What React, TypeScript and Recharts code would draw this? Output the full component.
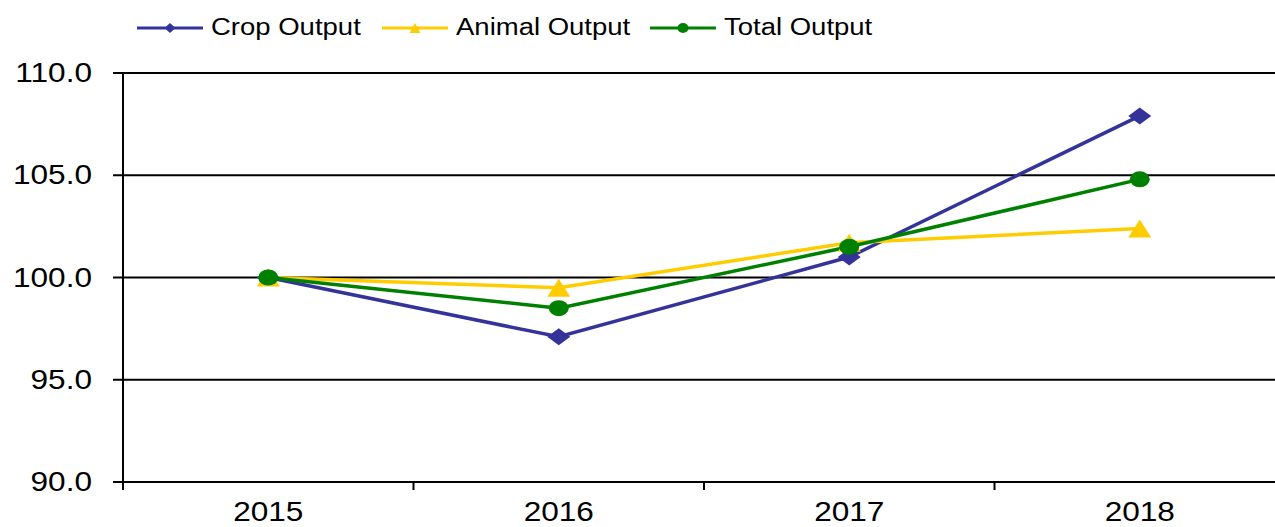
import React from "react";
import {
  LineChart,
  Line,
  XAxis,
  YAxis,
  CartesianGrid,
  Legend,
} from "recharts";

const years = ["2015", "2016", "2017", "2018"];
const cropOutput = [100.0, 97.1, 101.0, 107.9];
const animalOutput = [100.0, 99.5, 101.7, 102.4];
const totalOutput = [100.0, 98.5, 101.5, 104.8];
const yTicks = [90, 95, 100, 105, 110];

const data = years.map((year, i) => ({
  i,
  year,
  crop: cropOutput[i],
  animal: animalOutput[i],
  total: totalOutput[i],
}));

const CHART_W = 1300;
const CHART_H = 527;
const Y_AXIS_W = 123;
const MARGIN = { top: 73, right: 15, bottom: 0, left: 0 };
const PLOT_W = CHART_W - MARGIN.left - MARGIN.right - Y_AXIS_W;
const BAND = PLOT_W / years.length;
const SX = 1.17;
const FONT = "'Liberation Sans', Arial, sans-serif";

const series = [
  { key: "crop", name: "Crop Output", color: "#333399", shape: "diamond", itemW: 245 },
  { key: "animal", name: "Animal Output", color: "#FFCC00", shape: "triangle", itemW: 268 },
  { key: "total", name: "Total Output", color: "#008000", shape: "circle", itemW: 260 },
];

function Marker({ cx, cy, shape, color, w, h }: any) {
  if (cx == null || cy == null) return null;
  if (shape === "diamond") {
    return (
      <polygon
        points={`${cx - w / 2},${cy} ${cx},${cy - h / 2} ${cx + w / 2},${cy} ${cx},${cy + h / 2}`}
        fill={color}
      />
    );
  }
  if (shape === "triangle") {
    return (
      <polygon
        points={`${cx - w / 2},${cy + h / 2} ${cx},${cy - h / 2} ${cx + w / 2},${cy + h / 2}`}
        fill={color}
      />
    );
  }
  return <ellipse cx={cx} cy={cy} rx={w / 2} ry={h / 2} fill={color} />;
}

function YTick({ x, y, payload }: any) {
  return (
    <text
      transform={`translate(${x - 19},${y + 9}) scale(${SX},1)`}
      textAnchor="end"
      fontSize={27}
      fontFamily={FONT}
      fill="#000"
    >
      {Number(payload.value).toFixed(1)}
    </text>
  );
}

function XTick({ x, y, payload }: any) {
  const idx = Math.round(payload.value + 0.5);
  if (idx < 0 || idx >= years.length) return null;
  return (
    <text
      transform={`translate(${x + BAND / 2},${y + 29}) scale(${SX},1)`}
      textAnchor="middle"
      fontSize={27}
      fontFamily={FONT}
      fill="#000"
    >
      {years[idx]}
    </text>
  );
}

function LegendContent() {
  return (
    <div style={{ display: "flex", alignItems: "center", fontFamily: FONT }}>
      {series.map((s) => (
        <div
          key={s.key}
          style={{ display: "flex", alignItems: "center", width: s.itemW, flex: "none" }}
        >
          <svg width={66} height={20} style={{ flex: "none" }}>
            <line x1={0} y1={10} x2={66} y2={10} stroke={s.color} strokeWidth={3} />
            <Marker cx={33} cy={10} shape={s.shape} color={s.color} w={11} h={10} />
          </svg>
          <span
            style={{
              display: "inline-block",
              fontSize: 23.5,
              marginLeft: 8,
              transform: `scaleX(${SX})`,
              transformOrigin: "left center",
              whiteSpace: "nowrap",
            }}
          >
            {s.name}
          </span>
        </div>
      ))}
    </div>
  );
}

export default function App() {
  return (
    <div
      style={{
        position: "fixed",
        left: 0,
        top: 0,
        width: 1275,
        height: 527,
        overflow: "hidden",
        background: "#fff",
      }}
    >
      <LineChart width={CHART_W} height={CHART_H} data={data} margin={MARGIN}>
        <CartesianGrid vertical={false} stroke="#000" strokeWidth={2} />
        <XAxis
          type="number"
          dataKey="i"
          domain={[-0.5, 3.5]}
          ticks={[-0.5, 0.5, 1.5, 2.5, 3.5]}
          height={CHART_H - MARGIN.top - 409}
          axisLine={{ stroke: "#000", strokeWidth: 2 }}
          tickLine={{ stroke: "#000", strokeWidth: 2 }}
          tickSize={8}
          tick={<XTick />}
          interval={0}
        />
        <YAxis
          domain={[90, 110]}
          ticks={yTicks}
          width={Y_AXIS_W}
          axisLine={{ stroke: "#000", strokeWidth: 2 }}
          tickLine={{ stroke: "#000", strokeWidth: 2 }}
          tickSize={10}
          tick={<YTick />}
          interval={0}
        />
        <Legend
          verticalAlign="middle"
          layout="horizontal"
          wrapperStyle={{ top: 14, left: 137, width: 1000 }}
          content={<LegendContent />}
        />
        {series.map((s) => (
          <Line
            key={s.key}
            dataKey={s.key}
            name={s.name}
            stroke={s.color}
            strokeWidth={3.5}
            isAnimationActive={false}
            dot={(p: any) => (
              <Marker
                key={`${s.key}-${p.index}`}
                cx={p.cx}
                cy={p.cy}
                shape={s.shape}
                color={s.color}
                w={s.shape === "circle" ? 20 : 23}
                h={s.shape === "circle" ? 16 : s.shape === "triangle" ? 18 : 17}
              />
            )}
            activeDot={false}
          />
        ))}
      </LineChart>
    </div>
  );
}
